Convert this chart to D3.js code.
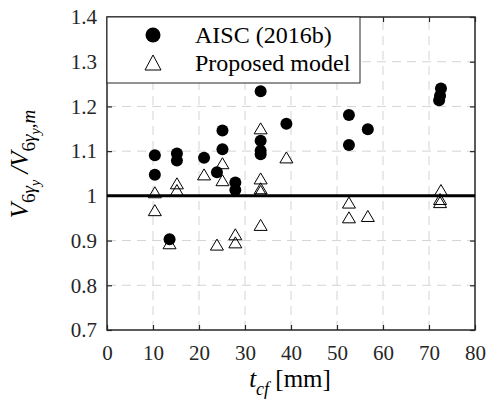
<!DOCTYPE html>
<head>
    <title>V ratio vs t_cf</title>
    <script src="https://d3js.org/d3.v7.min.js"></script>
    <style>
        body { margin: 0; background: #fff; }
        text { font-family: "Liberation Serif", "Times New Roman", serif; }
    </style>
</head>
<body>
<svg></svg>
</body>

<script>
    // data
    var aiscX = [10.4, 10.4, 13.6, 15.2, 15.2, 21.1, 23.9, 25.1, 25.1, 27.9, 27.9,
                 33.4, 33.4, 33.4, 33.4, 39.0, 52.6, 52.6, 56.7, 72.6, 72.4, 72.2];
    var aiscY = [1.091, 1.047, 0.903, 1.095, 1.079, 1.085, 1.053, 1.146, 1.104, 1.030, 1.013,
                 1.234, 1.123, 1.101, 1.093, 1.161, 1.181, 1.114, 1.149, 1.240, 1.224, 1.214];

    var propX = [10.4, 10.4, 13.6, 15.2, 15.2, 21.1, 23.9, 25.1, 25.1, 27.9, 27.9,
                 33.4, 33.4, 33.4, 33.4, 33.4, 39.0, 52.6, 52.6, 56.7, 72.6, 72.4, 72.4];
    var propY = [1.008, 0.968, 0.894, 1.028, 1.013, 1.048, 0.891, 1.073, 1.035, 0.914, 0.896,
                 1.151, 1.039, 1.017, 1.011, 0.935, 1.086, 0.985, 0.952, 0.955, 1.013, 0.993, 0.986];

    var xTicks = [0, 10, 20, 30, 40, 50, 60, 70, 80];
    var yTicks = [0.7, 0.8, 0.9, 1, 1.1, 1.2, 1.3, 1.4];
    var legendNames = ["AISC (2016b)", "Proposed model"];

    // sizes
    var width = 488, height = 415;
    var margin = {left: 107, right: 13, top: 17, bottom: 85};
    var axisColor = "#262626";

    var svg = d3.select("svg")
        .attr("width", width)
        .attr("height", height);

    var x = d3.scaleLinear().domain([0, 80]).range([margin.left, width - margin.right]);
    var y = d3.scaleLinear().domain([0.7, 1.4]).range([height - margin.bottom, margin.top]);

    // grid
    var grid = svg.append("g").attr("stroke", "#d4d4d4").attr("stroke-width", 1)
        .attr("stroke-dasharray", "9,6");
    grid.selectAll(".vg").data(xTicks.slice(1, -1)).enter().append("line")
        .attr("x1", function (d) { return x(d); }).attr("x2", function (d) { return x(d); })
        .attr("y1", y(0.7)).attr("y2", y(1.4));
    grid.selectAll(".hg").data(yTicks.slice(1, -1)).enter().append("line")
        .attr("y1", function (d) { return y(d); }).attr("y2", function (d) { return y(d); })
        .attr("x1", x(0)).attr("x2", x(80));

    // axes with inward ticks on all four sides
    var axBottom = svg.append("g").attr("transform", "translate(0," + y(0.7) + ")")
        .call(d3.axisBottom(x).tickValues(xTicks).tickSizeInner(-5).tickSizeOuter(0).tickPadding(15));
    var axTop = svg.append("g").attr("transform", "translate(0," + y(1.4) + ")")
        .call(d3.axisTop(x).tickValues(xTicks).tickSizeInner(-5).tickSizeOuter(0).tickFormat(""));
    var axLeft = svg.append("g").attr("transform", "translate(" + x(0) + ",0)")
        .call(d3.axisLeft(y).tickValues(yTicks).tickSizeInner(-5).tickSizeOuter(0).tickPadding(10)
            .tickFormat(function (d) { return d === 1 ? "1" : d3.format(".1f")(d); }));
    var axRight = svg.append("g").attr("transform", "translate(" + x(80) + ",0)")
        .call(d3.axisRight(y).tickValues(yTicks).tickSizeInner(-5).tickSizeOuter(0).tickFormat(""));

    [axBottom, axTop, axLeft, axRight].forEach(function (a) {
        a.select(".domain").remove();
        a.selectAll("line").attr("stroke", axisColor).attr("stroke-width", 1.2);
        a.selectAll("text").attr("fill", axisColor).style("font-size", "21px")
            .style("font-family", "'Liberation Serif', serif");
    });

    // box
    svg.append("rect")
        .attr("x", x(0)).attr("y", y(1.4))
        .attr("width", x(80) - x(0)).attr("height", y(0.7) - y(1.4))
        .attr("fill", "none").attr("stroke", axisColor).attr("stroke-width", 1.5);

    // reference line at 1
    svg.append("line")
        .attr("x1", x(0)).attr("x2", x(80))
        .attr("y1", y(1)).attr("y2", y(1))
        .attr("stroke", "#000").attr("stroke-width", 3);

    function triPath(cx, cy) {
        // open triangle, centred on its bounding box
        var w = 6.5, h = 5.5;
        return "M" + cx + "," + (cy - h) + "L" + (cx + w) + "," + (cy + h) + "L" + (cx - w) + "," + (cy + h) + "Z";
    }

    // AISC points
    svg.append("g").selectAll("circle")
        .data(aiscX.map(function (d, i) { return [d, aiscY[i]]; }))
        .enter().append("circle")
        .attr("cx", function (d) { return x(d[0]); })
        .attr("cy", function (d) { return y(d[1]); })
        .attr("r", 6)
        .attr("fill", "#000");

    // proposed model points
    svg.append("g").selectAll("path")
        .data(propX.map(function (d, i) { return [d, propY[i]]; }))
        .enter().append("path")
        .attr("d", function (d) { return triPath(x(d[0]), y(d[1])); })
        .attr("fill", "none")
        .attr("stroke", "#000")
        .attr("stroke-width", 1);

    // legend
    var lg = svg.append("g");
    lg.append("rect")
        .attr("x", x(0)).attr("y", y(1.4))
        .attr("width", 253).attr("height", 66)
        .attr("fill", "#fff").attr("stroke", axisColor).attr("stroke-width", 1);
    lg.append("circle").attr("cx", 153).attr("cy", 35).attr("r", 7.5).attr("fill", "#000");
    lg.append("path").attr("d", "M153,55L161,70L145,70Z")
        .attr("fill", "none").attr("stroke", "#000").attr("stroke-width", 1);
    lg.selectAll(".lt").data(legendNames).enter().append("text")
        .attr("x", 195)
        .attr("y", function (d, i) { return 43 + i * 28; })
        .style("font-size", "24px")
        .attr("fill", "#000")
        .text(function (d) { return d; });

    // y label
    var yl = svg.append("text")
        .attr("transform", "translate(28,164)rotate(-90)")
        .attr("text-anchor", "middle")
        .style("font-size", "25px")
        .attr("fill", "#000");
    yl.append("tspan").style("font-style", "italic").text("V");
    yl.append("tspan").attr("dy", 7).style("font-size", "19px").text("6");
    yl.append("tspan").style("font-size", "19px").style("font-style", "italic").text("γ");
    yl.append("tspan").attr("dy", 5).style("font-size", "14px").style("font-style", "italic").text("y");
    yl.append("tspan").attr("dy", -12).style("font-style", "italic").text(" /V");
    yl.append("tspan").attr("dy", 7).style("font-size", "19px").text("6");
    yl.append("tspan").style("font-size", "19px").style("font-style", "italic").text("γ");
    yl.append("tspan").attr("dy", 5).style("font-size", "14px").style("font-style", "italic").text("y");
    yl.append("tspan").attr("dy", -5).style("font-size", "19px").style("font-style", "italic").text(",m");

    // x label
    var xl = svg.append("text")
        .attr("x", 290).attr("y", 387)
        .attr("text-anchor", "middle")
        .style("font-size", "25px")
        .attr("fill", "#000");
    xl.append("tspan").style("font-style", "italic").text("t");
    xl.append("tspan").attr("dy", 8).style("font-size", "18px").style("font-style", "italic").text("cf");
    xl.append("tspan").attr("dy", -8).text(" [mm]");
</script>
